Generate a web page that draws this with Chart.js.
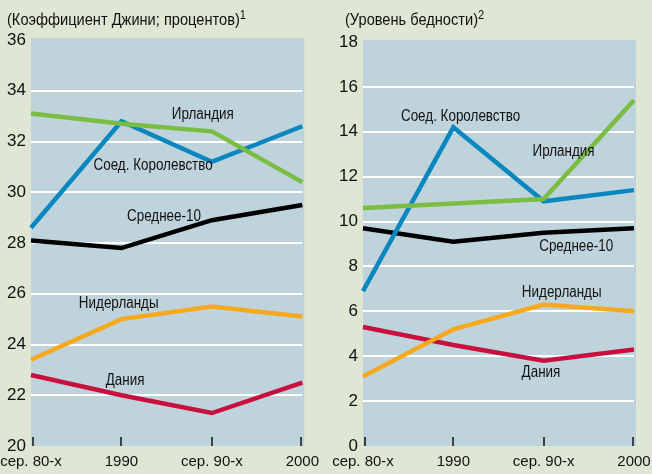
<!DOCTYPE html>
<html><head><meta charset="utf-8">
<script src="https://cdn.jsdelivr.net/npm/chart.js@4"></script>
<style>
html,body{margin:0;padding:0;background:#dfe6d3;width:652px;height:474px;overflow:hidden;position:relative;}
body{font-family:"Liberation Sans",Arial,sans-serif;color:#111;}
.box{position:absolute;top:0;height:474px;}
.t{position:absolute;font-size:17px;white-space:nowrap;line-height:20px;transform:scaleX(0.86);transform-origin:0 0;}
.t sup{font-size:13px;vertical-align:top;position:relative;top:-5px;}
</style></head><body>
<div class="box" style="left:-20px;width:346px"><canvas id="c1" width="346" height="474"></canvas></div>
<div class="box" style="left:306px;width:366px"><canvas id="c2" width="366" height="474"></canvas></div>
<div class="t" style="left:7px;top:10px">(Коэффициент Джини; процентов)<sup>1</sup></div>
<div class="t" style="left:345px;top:10px">(Уровень бедности)<sup>2</sup></div>
<script>
const FONT = '"Liberation Sans",Arial,sans-serif';
const periods = ['сер. 80-х', '1990', 'сер. 90-х', '2000'];

// Left panel: Gini coefficient, percent
const giniIreland = [33.1, 32.7, 32.4, 30.4];
const giniUK = [28.6, 32.8, 31.2, 32.6];
const giniAvg10 = [28.1, 27.8, 28.9, 29.5];
const giniNetherlands = [23.4, 25.0, 25.5, 25.1];
const giniDenmark = [22.8, 22.0, 21.3, 22.5];

// Right panel: poverty rate
const povIreland = [10.6, 10.8, 11.0, 15.4];
const povUK = [6.9, 14.2, 10.9, 11.4];
const povAvg10 = [9.7, 9.1, 9.5, 9.7];
const povNetherlands = [3.1, 5.2, 6.3, 6.0];
const povDenmark = [5.3, 4.5, 3.8, 4.3];

const seriesNames = ['Ирландия', 'Соед. Королевство', 'Среднее-10', 'Нидерланды', 'Дания'];
const colors = ['#7abd42', '#0b87c0', '#000000', '#f6a91c', '#c8103f'];

// label anchor positions (x as category index, y as value)
const giniLabelX = [1.9, 1.35, 1.47, 0.97, 1.04];
const giniLabelY = [33.05, 31.05, 29.05, 25.6, 22.57];
const povLabelX = [1.08, 2.22, 2.36, 2.2, 1.97];
const povLabelY = [14.68, 13.12, 8.9, 6.83, 3.28];
const povLabelOrder = [1, 0, 2, 3, 4];

function makeChart(id, seriesData, yMin, yMax, yWidth, padTop, padRight, lx, ly, order) {
  const bgPlugin = {
    id: 'bg',
    beforeDraw(chart) {
      const a = chart.chartArea, c = chart.ctx;
      c.save(); c.fillStyle = '#bfd3dc';
      c.fillRect(a.left, a.top - 2, a.right - a.left + 2, a.bottom - a.top + 2);
      c.restore();
    }
  };
  const markPlugin = {
    id: 'marks',
    afterDatasetsDraw(chart) {
      const a = chart.chartArea, c = chart.ctx, x = chart.scales.x;
      c.save(); c.strokeStyle = '#111'; c.lineWidth = 1.5;
      for (let i = 0; i < periods.length; i++) {
        let px = Math.round(x.getPixelForValue(i));
        if (i === 0) px += 2; if (i === periods.length - 1) px -= 1;
        c.beginPath(); c.moveTo(px, a.bottom - 9); c.lineTo(px, a.bottom); c.stroke();
      }
      c.fillStyle = '#111'; c.font = '16px ' + FONT; c.textAlign = 'center'; c.textBaseline = 'middle';
      for (let k = 0; k < lx.length; k++) {
        const i0 = Math.floor(lx[k]), f = lx[k] - i0;
        const p0 = x.getPixelForValue(i0), p1 = x.getPixelForValue(Math.min(i0 + 1, periods.length - 1));
        const px = p0 + (p1 - p0) * f;
        const py = chart.scales.y.getPixelForValue(ly[k]);
        c.save(); c.translate(px, py); c.scale(0.84, 1);
        c.fillText(seriesNames[order[k]], 0, 0);
        c.restore();
      }
      c.restore();
    }
  };
  return new Chart(document.getElementById(id), {
    type: 'line',
    data: {
      labels: periods,
      datasets: seriesData.map((d, i) => ({
        data: d, borderColor: colors[i], borderWidth: 4.5, pointRadius: 0,
        tension: 0, fill: false, borderCapStyle: 'butt', borderJoinStyle: 'miter'
      }))
    },
    options: {
      responsive: false, animation: false, events: [],
      layout: { padding: { top: padTop, right: padRight, left: 0, bottom: 0 } },
      plugins: { legend: { display: false }, tooltip: { enabled: false }, title: { display: false } },
      scales: {
        x: {
          offset: false,
          grid: { display: false, drawTicks: false }, border: { display: false },
          ticks: { color: '#111', font: { size: 15, family: FONT }, padding: 7, maxRotation: 0, autoSkip: false },
          afterFit: s => { s.height = 28; }
        },
        y: {
          min: yMin, max: yMax,
          ticks: { stepSize: 2, color: '#111', font: { size: 17, family: FONT }, padding: 5 },
          grid: {
            drawTicks: false, lineWidth: 2,
            color: ctx => (ctx.tick && (ctx.tick.value === yMin || ctx.tick.value === yMax)) ? 'rgba(0,0,0,0)' : '#ffffff'
          },
          border: { display: false },
          afterFit: s => { s.width = yWidth; }
        }
      }
    },
    plugins: [bgPlugin, markPlugin]
  });
}

makeChart('c1', [giniIreland, giniUK, giniAvg10, giniNetherlands, giniDenmark], 20, 36, 51, 40, 15,
  giniLabelX, giniLabelY, [0, 1, 2, 3, 4]);
makeChart('c2', [povIreland, povUK, povAvg10, povNetherlands, povDenmark], 0, 18, 57, 42, 38,
  povLabelX, povLabelY, povLabelOrder);
</script>
</body></html>
